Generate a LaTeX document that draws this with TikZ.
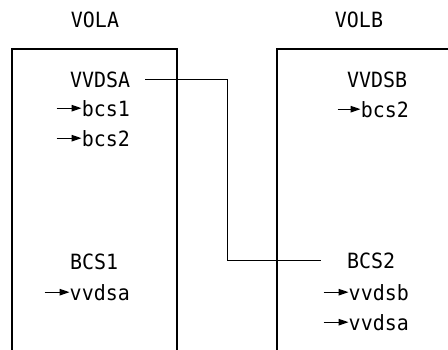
\documentclass[tikz,border=0pt]{standalone}
\usepackage{fontspec}
\setmonofont[FakeStretch=0.95]{DejaVu Sans Mono}
\usepackage{tikz}
\usetikzlibrary{arrows.meta}

\begin{document}
\begin{tikzpicture}[
  x=1pt,
  y=-1pt,
  font=\ttfamily\fontsize{21}{25}\selectfont,
  volname/.style={anchor=base, inner sep=0pt},
  entry/.style={anchor=base west, inner sep=0pt},
  pointer/.style={anchor=base east, inner sep=0pt},
  frame/.style={draw=black, line width=1.3pt},
  link/.style={draw=black, line width=1.0pt},
  ptr/.style={-{Triangle[length=10pt,width=6.5pt]}, draw=black, line width=1.2pt}
]
\useasboundingbox (0,0) rectangle (448,349);

% Volume titles
\node[volname] (volA) at (95,27) {VOLA};
\node[volname] (volB) at (359,27) {VOLB};

% Volume frames, open at the page edge
\draw[frame] (12,352) -- (12,49) -- (177,49) -- (177,352);
\draw[frame] (277,352) -- (277,49) -- (451,49);

% VOLA contents
\node[entry] (catA) at (70,87) {VVDSA};
\node[pointer] (refA1) at (130,116) {bcs1};
\node[pointer] (refA2) at (130,146) {bcs2};
\node[entry] (bcsA) at (70,269) {BCS1};
\node[pointer] (refA3) at (130,300) {vvdsa};

% VOLB contents
\node[entry] (catB) at (347,87) {VVDSB};
\node[pointer] (refB1) at (409,117) {bcs2};
\node[entry] (bcsB) at (347,268) {BCS2};
\node[pointer] (refB2) at (409,300) {vvdsb};
\node[pointer] (refB3) at (409,330) {vvdsa};

% Pointer arrows
\draw[ptr] ([xshift=-25pt]refA1.west) -- (refA1.west);
\draw[ptr] ([xshift=-25pt]refA2.west) -- (refA2.west);
\draw[ptr] ([xshift=-25pt]refA3.west) -- (refA3.west);
\draw[ptr] ([xshift=-23pt]refB1.west) -- (refB1.west);
\draw[ptr] ([xshift=-25pt]refB2.west) -- (refB2.west);
\draw[ptr] ([xshift=-25pt]refB3.west) -- (refB3.west);

% VVDSA to BCS2 link
\coordinate (jog) at (227,0);
\draw[link] ([xshift=15pt]catA.east) -| (jog |- bcsB.west)
      -- ([xshift=-26pt]bcsB.west);
\end{tikzpicture}
\end{document}
